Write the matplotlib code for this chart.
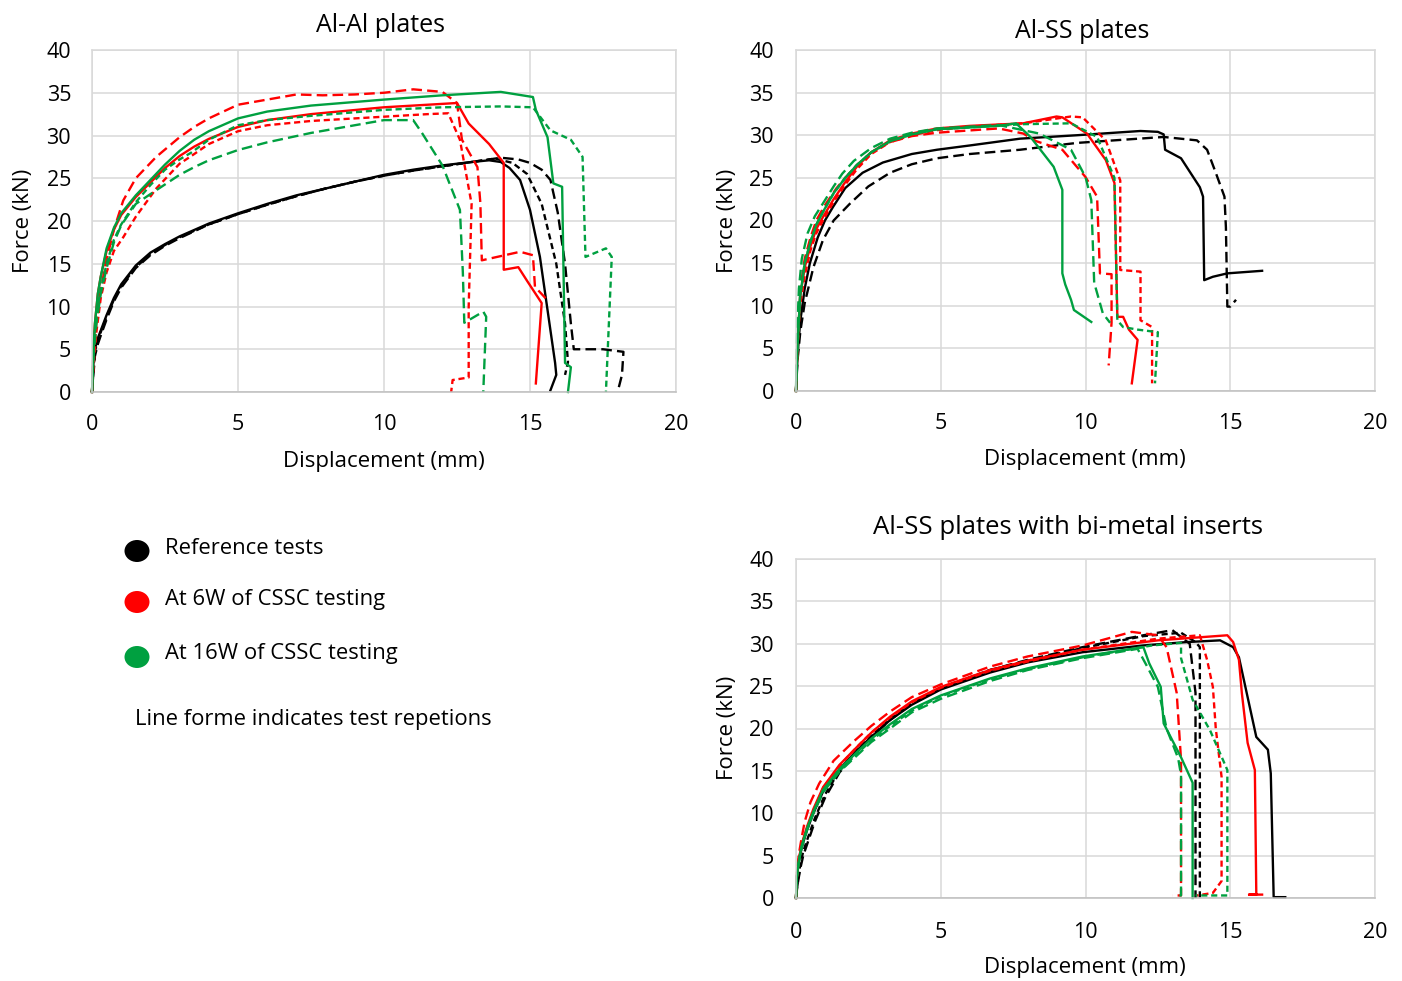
import matplotlib
matplotlib.use("Agg")
import matplotlib.pyplot as plt
from matplotlib.patches import Ellipse

plt.rcParams['font.family'] = ['Open Sans', 'DejaVu Sans']

BLACK = '#000000'
RED = '#FF0000'
GREEN = '#00A040'

# ---------------- Al-Al plates ----------------
aa_ref1_x = [0, 0.05, 0.1, 0.2, 0.3, 0.5, 0.75, 1.0, 1.5, 2.0, 2.5, 3.0, 4.0, 5.0, 6.0, 7.0, 8.0, 9.0, 10.0, 11.0, 12.0, 13.0, 13.6, 14.0, 14.3, 14.66, 15.0, 15.34, 15.6, 15.86, 15.9, 15.7]
aa_ref1_y = [0, 3.5, 5.0, 6.3, 7.2, 9.0, 11.0, 12.6, 14.8, 16.3, 17.3, 18.2, 19.7, 20.9, 22.0, 23.0, 23.8, 24.6, 25.4, 26.0, 26.5, 26.9, 27.1, 26.9, 26.2, 24.8, 21.3, 15.8, 9.6, 3.4, 2.0, 0.2]
aa_ref2_x = [0, 0.1, 0.2, 0.3, 0.5, 0.75, 1.0, 1.5, 2.0, 2.5, 3.0, 4.0, 5.0, 6.0, 7.0, 8.0, 9.0, 10.0, 11.0, 12.0, 13.0, 14.0, 14.6, 15.0, 15.4, 15.7, 15.95, 16.2, 16.4, 16.5, 17.5, 18.2, 18.15, 18.0]
aa_ref2_y = [0, 4.2, 5.6, 6.6, 8.5, 10.6, 12.2, 14.5, 16.0, 17.1, 18.0, 19.6, 20.8, 21.9, 22.9, 23.8, 24.6, 25.3, 25.9, 26.4, 26.9, 27.4, 27.2, 26.8, 26.0, 24.8, 21.0, 15.0, 8.0, 5.0, 5.0, 4.7, 2.0, 0]
aa_ref3_x = [0, 0.1, 0.2, 0.3, 0.5, 0.75, 1.0, 1.5, 2.0, 2.5, 3.0, 4.0, 5.0, 6.0, 7.0, 8.0, 9.0, 10.0, 11.0, 12.0, 13.0, 13.8, 14.4, 14.9, 15.4, 15.9, 16.2, 16.3, 16.2]
aa_ref3_y = [0, 4.8, 6.0, 7.0, 8.8, 10.8, 12.4, 14.6, 16.1, 17.2, 18.1, 19.6, 20.8, 21.9, 22.9, 23.8, 24.6, 25.3, 25.9, 26.4, 26.9, 27.3, 26.8, 25.5, 22.0, 15.0, 8.0, 3.5, 2.0]

aa_6w1_x = [0, 0.05, 0.1, 0.2, 0.3, 0.5, 0.75, 1.0, 1.5, 2.0, 2.5, 3.0, 3.5, 4.0, 5.0, 6.0, 7.5, 10.0, 12.5, 12.9, 13.6, 14.1, 14.1, 14.6, 14.9, 15.4, 15.2]
aa_6w1_y = [0, 5.0, 8.0, 11.5, 13.5, 16.5, 19.0, 20.7, 22.8, 24.5, 26.2, 27.6, 28.7, 29.6, 31.0, 31.8, 32.5, 33.3, 33.8, 31.4, 29.0, 26.8, 14.3, 14.6, 13.0, 10.4, 1.0]
aa_6w2_x = [0, 0.05, 0.15, 0.3, 0.5, 0.75, 1.07, 1.5, 2.2, 3.0, 3.5, 4.0, 5.0, 6.0, 7.0, 7.9, 9.0, 10.0, 11.0, 12.0, 12.5, 12.67, 13.2, 13.3, 13.35, 14.66, 15.1, 15.17, 15.58]
aa_6w2_y = [0, 4.0, 8.0, 12.0, 15.5, 19.0, 22.4, 25.0, 27.5, 29.8, 31.0, 32.0, 33.6, 34.2, 34.8, 34.7, 34.8, 35.0, 35.4, 35.1, 33.8, 29.5, 26.3, 22.1, 15.4, 16.4, 16.0, 12.3, 10.8]
aa_6w3_x = [0, 0.05, 0.15, 0.3, 0.5, 0.75, 1.07, 1.5, 2.2, 3.0, 3.4, 4.0, 5.0, 6.0, 7.5, 10.0, 11.5, 12.2, 12.6, 13.0, 12.9, 12.9, 12.35, 12.3]
aa_6w3_y = [0, 3.0, 7.0, 11.0, 14.0, 16.5, 18.1, 20.5, 23.8, 26.7, 27.6, 29.0, 30.5, 31.2, 31.7, 32.2, 32.5, 32.6, 29.5, 22.0, 10.0, 1.7, 1.4, 0]

aa_16w1_x = [0, 0.05, 0.1, 0.2, 0.3, 0.5, 0.75, 1.0, 1.5, 2.0, 2.5, 3.0, 3.5, 4.0, 5.0, 6.0, 7.5, 10.0, 12.0, 14.0, 15.1, 15.2, 15.6, 15.8, 16.1, 16.2, 16.4, 16.3]
aa_16w1_y = [0, 5.0, 8.0, 11.5, 13.5, 16.8, 19.2, 20.9, 23.0, 24.8, 26.6, 28.2, 29.5, 30.5, 32.0, 32.8, 33.5, 34.2, 34.7, 35.1, 34.5, 33.0, 29.8, 24.4, 24.0, 3.4, 2.9, 0]
aa_16w2_x = [0, 0.05, 0.15, 0.3, 0.5, 0.75, 1.0, 1.5, 2.2, 3.0, 3.5, 4.0, 5.0, 6.0, 7.5, 9.0, 10.0, 11.0, 11.3, 12.0, 12.6, 12.7, 12.75, 13.4, 13.5, 13.4]
aa_16w2_y = [0, 4.0, 8.0, 11.5, 14.5, 17.5, 19.5, 22.0, 23.6, 25.4, 26.3, 27.1, 28.3, 29.2, 30.3, 31.2, 31.8, 31.8, 30.3, 26.5, 21.3, 14.0, 8.1, 9.4, 8.8, 0]
aa_16w3_x = [0, 0.05, 0.1, 0.2, 0.3, 0.5, 0.75, 1.0, 1.5, 2.0, 2.5, 3.0, 3.4, 4.0, 5.0, 6.0, 7.5, 10.0, 12.0, 14.0, 15.1, 15.7, 16.4, 16.8, 16.9, 17.6, 17.8, 17.6]
aa_16w3_y = [0, 4.5, 7.0, 10.0, 12.0, 15.0, 17.8, 19.6, 22.2, 24.2, 26.0, 27.2, 28.0, 29.5, 31.2, 31.8, 32.3, 33.0, 33.3, 33.4, 33.3, 30.6, 29.5, 27.5, 15.8, 16.8, 15.8, 0]

# ---------------- Al-SS plates ----------------
as_ref1_x = [0, 0.05, 0.14, 0.3, 0.48, 0.75, 1.0, 1.28, 1.7, 2.3, 3.0, 3.5, 4.0, 4.87, 6.0, 7.74, 9.7, 11.9, 12.5, 12.7, 12.75, 13.3, 13.95, 14.06, 14.1, 14.4, 14.9, 16.1]
as_ref1_y = [0, 4.0, 8.0, 12.0, 15.0, 18.0, 20.0, 21.6, 23.8, 25.6, 26.8, 27.3, 27.8, 28.3, 28.8, 29.6, 30.0, 30.5, 30.4, 30.1, 28.3, 27.3, 23.9, 22.8, 13.0, 13.4, 13.8, 14.1]
as_ref2_x = [0, 0.05, 0.15, 0.3, 0.6, 0.93, 1.3, 1.87, 2.5, 3.25, 4.0, 4.87, 6.0, 7.74, 9.7, 12.7, 13.85, 14.2, 14.5, 14.8, 14.85, 14.9, 15.0, 15.2]
as_ref2_y = [0, 3.5, 7.0, 10.3, 14.5, 17.7, 20.0, 22.0, 24.0, 25.6, 26.6, 27.3, 27.8, 28.3, 29.1, 29.8, 29.4, 28.3, 25.6, 22.8, 19.2, 9.9, 9.9, 10.7]

as_6w1_x = [0, 0.05, 0.14, 0.3, 0.5, 0.7, 0.93, 1.3, 1.7, 2.1, 2.6, 3.25, 4.0, 4.87, 6.0, 7.85, 9.0, 9.2, 10.05, 10.7, 11.0, 11.1, 11.3, 11.5, 11.8, 11.6]
as_6w1_y = [0, 5.0, 11.0, 14.5, 17.0, 19.0, 20.4, 22.5, 24.5, 26.3, 28.0, 29.4, 30.2, 30.8, 31.1, 31.4, 32.2, 32.1, 30.2, 27.1, 24.4, 8.7, 8.7, 7.2, 6.0, 0.9]
as_6w2_x = [0, 0.05, 0.15, 0.3, 0.5, 0.7, 1.0, 1.4, 1.7, 2.1, 2.6, 3.25, 4.0, 4.87, 7.0, 7.85, 8.3, 9.2, 10.0, 10.4, 10.5, 10.9, 10.9, 10.8]
as_6w2_y = [0, 6.0, 12.0, 15.5, 18.0, 20.0, 21.8, 23.8, 25.0, 26.5, 28.0, 29.2, 29.9, 30.3, 30.8, 30.2, 29.3, 28.3, 25.1, 22.8, 13.8, 13.7, 8.0, 3.0]
as_6w3_x = [0, 0.05, 0.14, 0.3, 0.5, 0.7, 0.93, 1.3, 1.7, 2.1, 2.6, 3.25, 4.0, 4.87, 6.0, 7.85, 9.5, 9.9, 10.7, 11.2, 11.2, 11.9, 11.9, 12.3, 12.3]
as_6w3_y = [0, 5.0, 10.0, 13.5, 16.5, 18.5, 20.0, 22.2, 24.2, 26.0, 27.8, 29.2, 30.0, 30.6, 31.0, 31.4, 32.2, 32.1, 29.4, 24.7, 14.2, 14.0, 8.3, 7.5, 0.9]

as_16w1_x = [0, 0.05, 0.14, 0.3, 0.5, 0.7, 0.93, 1.3, 1.7, 2.1, 2.6, 3.25, 4.0, 4.87, 7.0, 7.6, 8.1, 8.9, 9.2, 9.2, 9.3, 9.5, 9.6, 10.2]
as_16w1_y = [0, 5.0, 11.0, 15.0, 17.5, 19.5, 21.0, 23.2, 25.0, 26.5, 28.0, 29.3, 30.1, 30.7, 31.1, 31.4, 29.8, 26.3, 23.6, 13.8, 12.5, 10.7, 9.5, 8.1]
as_16w2_x = [0, 0.03, 0.1, 0.2, 0.4, 0.65, 0.93, 1.3, 1.6, 2.0, 2.6, 3.25, 4.0, 4.87, 7.0, 8.4, 9.5, 10.0, 10.2, 10.3, 10.6, 10.85]
as_16w2_y = [0, 6.0, 12.0, 15.5, 18.5, 20.5, 22.0, 24.0, 25.5, 27.0, 28.5, 29.6, 30.3, 30.8, 31.2, 30.2, 28.3, 25.1, 22.4, 12.7, 9.1, 8.0]
as_16w3_x = [0, 0.05, 0.14, 0.3, 0.5, 0.7, 0.93, 1.3, 1.7, 2.1, 2.6, 3.25, 4.0, 4.87, 7.85, 9.5, 10.4, 11.0, 11.1, 11.3, 11.8, 12.5, 12.4]
as_16w3_y = [0, 5.0, 11.0, 15.0, 17.5, 19.5, 21.0, 23.2, 25.0, 26.5, 28.0, 29.3, 30.1, 30.7, 31.3, 31.4, 29.8, 25.0, 8.3, 7.5, 7.2, 6.9, 0.9]

# ---------------- Al-SS plates with bi-metal inserts ----------------
bm_ref1_x = [0, 0.03, 0.1, 0.2, 0.38, 0.6, 0.94, 1.5, 2.1, 2.6, 3.25, 4.0, 5.0, 6.7, 8.0, 9.9, 12.0, 13.5, 14.65, 15.1, 15.3, 15.6, 15.9, 16.3, 16.4, 16.5, 16.9]
bm_ref1_y = [0, 2.5, 4.3, 6.0, 8.0, 10.0, 12.6, 15.2, 17.4, 19.0, 21.0, 22.8, 24.6, 26.6, 27.8, 29.0, 29.8, 30.2, 30.4, 29.6, 28.4, 23.7, 19.0, 17.5, 14.7, 0.1, 0.1]
bm_ref2_x = [0, 0.05, 0.15, 0.25, 0.4, 0.65, 1.0, 1.5, 2.1, 2.6, 3.25, 4.0, 5.0, 6.7, 8.0, 9.9, 12.0, 13.0, 13.6, 13.8, 13.8]
bm_ref2_y = [0, 1.5, 3.5, 5.0, 6.5, 9.0, 11.8, 14.8, 17.2, 19.0, 21.0, 22.9, 24.7, 26.9, 28.1, 29.6, 31.0, 31.6, 30.0, 24.2, 0]
bm_ref3_x = [0, 0.05, 0.15, 0.25, 0.4, 0.65, 1.0, 1.5, 2.1, 2.6, 3.25, 4.0, 5.0, 6.7, 8.0, 9.9, 12.0, 13.3, 13.8, 13.95, 13.95]
bm_ref3_y = [0, 1.5, 4.0, 5.5, 7.0, 9.4, 12.2, 15.0, 17.4, 19.1, 21.1, 23.0, 24.8, 26.9, 28.0, 29.5, 30.9, 31.3, 30.2, 29.6, 0]

bm_6w1_x = [0, 0.03, 0.1, 0.2, 0.38, 0.6, 0.94, 1.5, 2.1, 2.6, 3.25, 4.0, 5.0, 6.7, 8.0, 9.9, 12.5, 14.9, 15.1, 15.3, 15.4, 15.6, 15.85, 15.9, 15.9, 15.65, 16.1]
bm_6w1_y = [0, 2.5, 4.6, 6.4, 8.4, 10.5, 13.1, 15.7, 17.8, 19.5, 21.4, 23.2, 24.9, 26.9, 28.0, 29.3, 30.4, 31.0, 30.2, 28.1, 24.2, 18.3, 15.1, 0.4, 0.4, 0.4, 0.4]
bm_6w2_x = [0, 0.03, 0.1, 0.2, 0.3, 0.5, 0.8, 1.3, 2.0, 2.6, 3.25, 4.0, 5.0, 6.7, 8.0, 9.9, 11.6, 12.5, 12.8, 13.15, 13.3, 13.3, 13.0]
bm_6w2_y = [0, 3.0, 5.2, 7.2, 9.0, 11.3, 13.5, 16.2, 18.5, 20.3, 22.0, 23.7, 25.2, 27.3, 28.5, 29.8, 31.4, 31.0, 29.6, 24.2, 16.3, 0.3, 0.3]
bm_6w3_x = [0, 0.03, 0.1, 0.2, 0.38, 0.6, 0.94, 1.5, 2.1, 2.6, 3.25, 4.0, 5.0, 6.7, 8.0, 9.9, 12.5, 13.95, 14.2, 14.4, 14.5, 14.7, 14.7, 14.4, 13.85]
bm_6w3_y = [0, 2.5, 4.5, 6.3, 8.2, 10.3, 13.0, 15.6, 17.8, 19.5, 21.3, 23.1, 24.8, 26.8, 27.9, 29.3, 30.6, 31.0, 28.1, 24.9, 20.0, 14.3, 2.0, 0.6, 0.3]

bm_16w1_x = [0, 0.03, 0.1, 0.2, 0.38, 0.6, 0.94, 1.5, 2.1, 2.6, 3.25, 4.0, 5.0, 6.7, 8.0, 9.9, 12.0, 12.2, 12.6, 12.7, 13.3, 13.7, 13.7]
bm_16w1_y = [0, 2.5, 4.4, 6.2, 8.2, 10.2, 12.8, 15.2, 17.2, 18.8, 20.5, 22.3, 23.9, 25.9, 27.1, 28.5, 29.6, 27.7, 24.9, 20.6, 16.6, 13.6, 0]
bm_16w2_x = [0, 0.03, 0.1, 0.2, 0.38, 0.6, 0.94, 1.5, 2.1, 2.6, 3.25, 4.0, 5.0, 6.7, 8.0, 9.9, 11.8, 12.1, 12.5, 12.8, 13.2, 13.3, 13.3, 13.1]
bm_16w2_y = [0, 2.5, 4.3, 6.0, 8.0, 10.0, 12.5, 14.9, 16.8, 18.4, 20.0, 21.9, 23.5, 25.6, 26.9, 28.3, 29.4, 27.5, 24.9, 20.0, 16.5, 14.5, 0.3, 0.3]
bm_16w3_x = [0, 0.03, 0.1, 0.2, 0.38, 0.6, 0.94, 1.5, 2.1, 2.6, 3.25, 4.0, 5.0, 6.7, 8.0, 9.9, 12.3, 13.3, 13.3, 13.7, 14.3, 14.9, 14.9, 13.8]
bm_16w3_y = [0, 2.5, 4.4, 6.1, 8.1, 10.1, 12.7, 15.0, 17.0, 18.6, 20.3, 22.1, 23.8, 25.8, 27.0, 28.4, 29.8, 30.1, 28.3, 23.4, 19.8, 15.1, 0.3, 0.3]

ticks_x = [0, 5, 10, 15, 20]
ticks_y = [0, 5, 10, 15, 20, 25, 30, 35, 40]
titles = ['Al-Al plates', 'Al-SS plates', 'Al-SS plates with bi-metal inserts']
legend_labels = ['Reference tests', 'At 6W of CSSC testing', 'At 16W of CSSC testing']
legend_note = 'Line forme indicates test repetions'

LONG = (0, (4.5, 2.2))
SHORT = (0, (2.6, 1.6))
LW = 1.7

W, H = 1402, 981
fig = plt.figure(figsize=(W / 100, H / 100), dpi=100)


def px_axes(x0, x1, y_top, y_bot):
    return fig.add_axes([x0 / W, 1 - y_bot / H, (x1 - x0) / W, (y_bot - y_top) / H])


def style(ax, ypad, xpad):
    ax.set_xlim(0, 20)
    ax.set_ylim(0, 40)
    ax.set_xticks(ticks_x)
    ax.set_yticks(ticks_y)
    ax.grid(True, color='#D9D9D9', lw=1.1)
    ax.set_axisbelow(True)
    for s in ax.spines.values():
        s.set_color('#D9D9D9')
        s.set_linewidth(1.1)
    ax.spines['bottom'].set_color('#BFBFBF')
    ax.tick_params(length=0, labelsize=15.5, colors='#000000')
    ax.tick_params(axis='y', pad=ypad)
    ax.tick_params(axis='x', pad=xpad)


ax1 = px_axes(92, 676, 50, 392)
ax2 = px_axes(796, 1375, 50, 391)
ax3 = px_axes(796, 1375, 559, 898)
style(ax1, 15, 16)
style(ax2, 16, 16)
style(ax3, 16, 17)

panels = [
    (ax1, [(aa_ref1_x, aa_ref1_y, BLACK, '-'), (aa_ref2_x, aa_ref2_y, BLACK, LONG), (aa_ref3_x, aa_ref3_y, BLACK, SHORT),
           (aa_6w1_x, aa_6w1_y, RED, '-'), (aa_6w2_x, aa_6w2_y, RED, LONG), (aa_6w3_x, aa_6w3_y, RED, SHORT),
           (aa_16w1_x, aa_16w1_y, GREEN, '-'), (aa_16w2_x, aa_16w2_y, GREEN, LONG), (aa_16w3_x, aa_16w3_y, GREEN, SHORT)]),
    (ax2, [(as_ref1_x, as_ref1_y, BLACK, '-'), (as_ref2_x, as_ref2_y, BLACK, LONG),
           (as_6w1_x, as_6w1_y, RED, '-'), (as_6w2_x, as_6w2_y, RED, LONG), (as_6w3_x, as_6w3_y, RED, SHORT),
           (as_16w1_x, as_16w1_y, GREEN, '-'), (as_16w2_x, as_16w2_y, GREEN, LONG), (as_16w3_x, as_16w3_y, GREEN, SHORT)]),
    (ax3, [(bm_ref1_x, bm_ref1_y, BLACK, '-'), (bm_ref2_x, bm_ref2_y, BLACK, LONG), (bm_ref3_x, bm_ref3_y, BLACK, SHORT),
           (bm_6w1_x, bm_6w1_y, RED, '-'), (bm_6w2_x, bm_6w2_y, RED, LONG), (bm_6w3_x, bm_6w3_y, RED, SHORT),
           (bm_16w1_x, bm_16w1_y, GREEN, '-'), (bm_16w2_x, bm_16w2_y, GREEN, LONG), (bm_16w3_x, bm_16w3_y, GREEN, SHORT)]),
]
for ax, curves in panels:
    for x, y, c, ls in curves:
        ax.plot(x, y, color=c, linestyle=ls, lw=LW, clip_on=False,
                solid_joinstyle='round', dash_joinstyle='round')


def ftext(x, y, s, **kw):
    fig.text(x / W, 1 - y / H, s, **kw)


ftext(380, 25, titles[0], ha='center', va='center', fontsize=18)
ftext(1082, 31, titles[1], ha='center', va='center', fontsize=18)
ftext(1068, 528, titles[2], ha='center', va='center', fontsize=18.5)

for xc, yc in [(384, 462), (1085, 460), (1085, 968)]:
    ftext(xc, yc, 'Displacement (mm)', ha='center', va='center', fontsize=16)
for xc, yc in [(24, 221), (728, 221), (728, 728)]:
    ftext(xc, yc, 'Force (kN)', ha='center', va='center', fontsize=16, rotation=90)

for (yc, col, lab) in zip([551, 602, 657], [BLACK, RED, GREEN], legend_labels):
    fig.patches.append(Ellipse((137 / W, 1 - yc / H), 25 / W, 22 / H, transform=fig.transFigure,
                               facecolor=col, edgecolor='none'))
    ftext(165, yc - 3, lab, ha='left', va='center', fontsize=15.8)
ftext(135, 719, legend_note, ha='left', va='center', fontsize=15.8)

fig.savefig('out.png', dpi=100)
